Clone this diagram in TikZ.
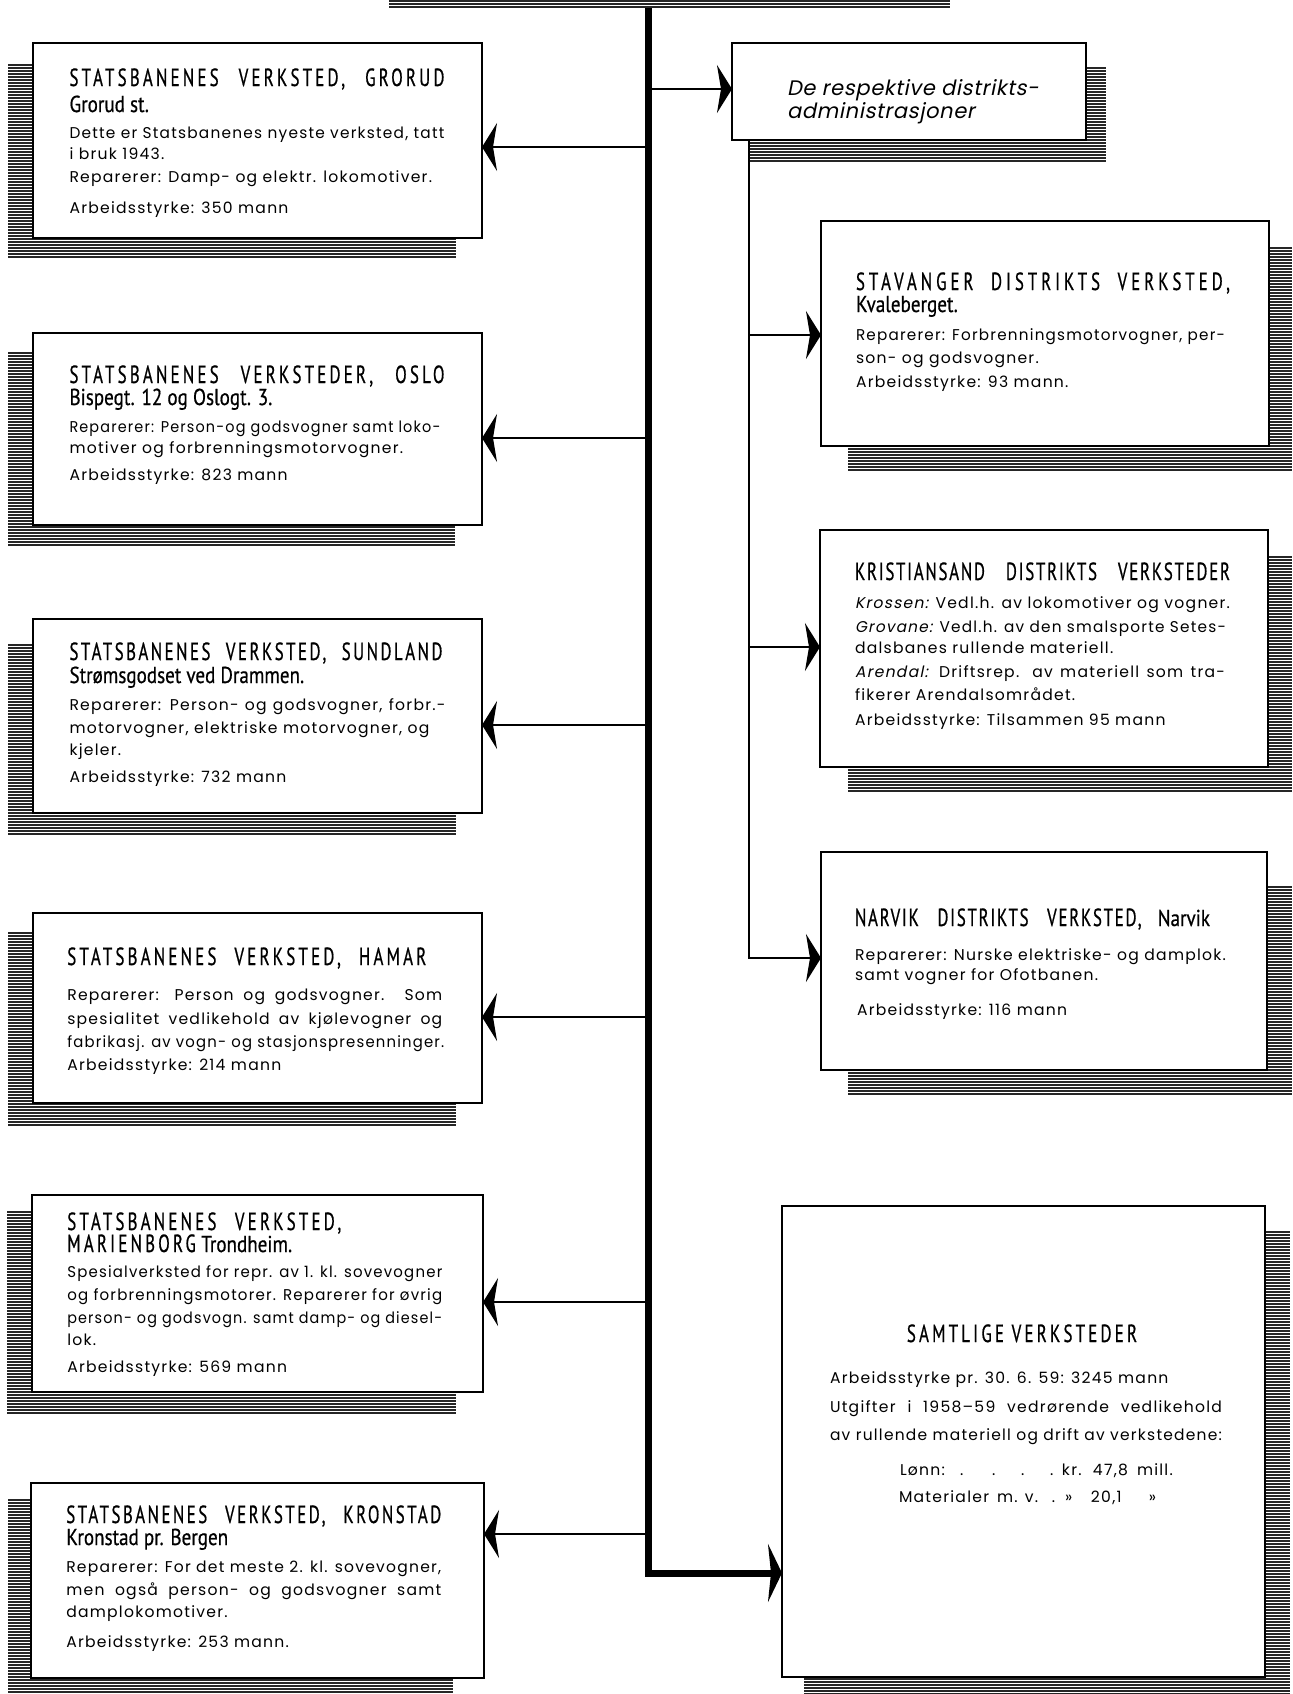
\documentclass[tikz,border=0pt]{standalone}
\usepackage{fontspec}
\usepackage{graphicx}
\usetikzlibrary{arrows.meta,fit}
\newfontfamily\ttlF[FakeStretch=0.68,LetterSpace=13,FakeBold=0.6]{PT Sans}
\newfontfamily\subF[FakeStretch=0.83,FakeBold=0.6]{PT Sans}
\newfontfamily\bodyF[LetterSpace=8]{Poppins}
\newfontfamily\bodyI[FakeSlant=0.2,LetterSpace=8]{Poppins}
\newfontfamily\respI[FakeSlant=0.2,LetterSpace=3]{Poppins}
\newdimen\pxu \pxu=0.5pt
\newsavebox\jbox
\newcommand\ttl{\ttlF\fontsize{12.4}{14}\selectfont}
\newcommand\TT[2][13]{{\ttl\addfontfeature{LetterSpace=#1}#2}}
\newcommand\subt{\subF\fontsize{11.5}{13}\selectfont}
\newcommand\bdy{\bodyF\fontsize{7.8}{9}\selectfont}
\newcommand\bdyit{\bodyI\fontsize{7.8}{9}\selectfont}
\newcommand\RagL[2]{\baselineskip=#1\pxu\hbox{#2}}
\newcommand\JusL[3]{\baselineskip=#1\pxu
  \sbox\jbox{#3}%
  \ifdim\wd\jbox>#2\pxu
    \hbox to #2\pxu{\resizebox{#2\pxu}{\height}{\usebox\jbox}}%
  \else
    \hbox to #2\pxu{#3}%
  \fi}
\newcommand\Blk[1]{\vtop{\lineskiplimit=-\maxdimen\bdy #1}}
\newcommand\AtX[2]{\makebox[0pt][l]{\hskip#1\pxu #2}}
\newcommand\Shad[4]{%
  \pgfmathtruncatemacro\shnext{#2+3}%
  \foreach \yy in {#2,\shnext,...,#4} {\draw[shadln] (#1,\yy) -- (#3,\yy);}}
\tikzset{
  box/.style={draw=black, line width=0.7pt, fill=white, inner sep=0pt, outer sep=0pt},
  shadln/.style={line width=0.55pt, draw=black!85},
  txt/.style={anchor=base west, inner sep=0pt, outer sep=0pt},
  thinln/.style={line width=1pt},
  arr/.style={thinln, -{Stealth[length=7.5pt,width=24pt,inset=2pt]}},
  trunkln/.style={line width=3.5pt},
  bigarr/.style={trunkln, line join=miter, -{Stealth[length=7pt,width=29pt,inset=1.5pt]}}
}
\begin{document}
\begin{tikzpicture}[x=0.5pt,y=-0.5pt]
\useasboundingbox (0,0) rectangle (1293,1694);
% shadows
\Shad{389}{1}{950}{7}
\Shad{8}{65}{456}{258}
\Shad{8}{353}{455}{547}
\Shad{8}{645}{456}{835}
\Shad{8}{933}{456}{1127}
\Shad{7}{1212}{456}{1415}
\Shad{8}{1500}{453}{1694}
\Shad{749}{68}{1106}{163}
\Shad{848}{248}{1292}{470}
\Shad{848}{557}{1292}{793}
\Shad{848}{887}{1292}{1095}
\Shad{804}{1232}{1290}{1694}
% boxes
\node[box, fit={(33,43) (482,238)}] (grorud) {};
\node[box, fit={(33,333) (482,525)}] (oslo) {};
\node[box, fit={(33,619) (482,813)}] (sund) {};
\node[box, fit={(33,913) (482,1103)}] (hamar) {};
\node[box, fit={(32,1195) (483,1392)}] (mar) {};
\node[box, fit={(31,1483) (484,1678)}] (kron) {};
\node[box, fit={(732,43) (1086,140)}] (resp) {};
\node[box, fit={(821,221) (1269,446)}] (stav) {};
\node[box, fit={(820,530) (1268,767)}] (krist) {};
\node[box, fit={(821,852) (1267,1070)}] (narv) {};
\node[box, fit={(782,1206) (1265,1677)}] (samt) {};
% connectors
\coordinate (top) at (648,8);
\coordinate (bend) at (648,1573);
\draw[bigarr] (top) -- (bend) -- (bend -| samt.west);
\coordinate (j1) at (648,147);
\coordinate (j2) at (648,438);
\coordinate (j3) at (648,725);
\coordinate (j4) at (648,1017);
\coordinate (j5) at (648,1302);
\coordinate (j6) at (648,1534);
\coordinate (jr) at (648,89);
\draw[arr] (j1) -- (j1 -| grorud.east);
\draw[arr] (j2) -- (j2 -| oslo.east);
\draw[arr] (j3) -- (j3 -| sund.east);
\draw[arr] (j4) -- (j4 -| hamar.east);
\draw[arr] (j5) -- (j5 -| mar.east);
\draw[arr] (j6) -- (j6 -| kron.east);
\draw[arr] (jr) -- (jr -| resp.west);
\coordinate (r0) at (749,140);
\coordinate (r1) at (749,335);
\coordinate (r2) at (749,647);
\coordinate (r3) at (749,958);
\draw[arr] (r0) -- (r3) -- (r3 -| narv.west);
\draw[arr] (r1) -- (r1 -| stav.west);
\draw[arr] (r2) -- (r2 -| krist.west);
% texts
\node[txt] (tgrorud) at (69.5,86) {\Blk{%
 \JusL{0}{375}{\TT{STATSBANENES VERKSTED, GRORUD}}%
 \RagL{26}{\subt Grorud st.}%
 \JusL{26}{375}{Dette er Statsbanenes nyeste verksted, tatt}%
 \RagL{21}{i bruk 1943.}%
 \RagL{23}{Reparerer: Damp- og elektr. lokomotiver.}%
 \RagL{31}{Arbeidsstyrke: 350 mann}}};
\node[txt] (toslo) at (69.5,383) {\Blk{%
 \JusL{0}{375}{\TT{STATSBANENES VERKSTEDER, OSLO}}%
 \RagL{22}{\subt Bispegt. 12 og Oslogt. 3.}%
 \JusL{27}{371}{Reparerer: Person-og godsvogner samt loko-}%
 \RagL{21}{motiver og forbrenningsmotorvogner.}%
 \RagL{27}{Arbeidsstyrke: 823 mann}}};
\node[txt] (tsund) at (69.5,660) {\Blk{%
 \JusL{0}{373}{\TT[10]{STATSBANENES VERKSTED, SUNDLAND}}%
 \RagL{23}{\subt Strømsgodset ved Drammen.}%
 \JusL{27}{376}{Reparerer: Person- og godsvogner, forbr.-}%
 \RagL{23}{motorvogner, elektriske motorvogner, og}%
 \RagL{22}{kjeler.}%
 \RagL{27}{Arbeidsstyrke: 732 mann}}};
\node[txt] (thamar) at (67.3,965) {\Blk{%
 \JusL{0}{359}{\TT{STATSBANENES VERKSTED, HAMAR}}%
 \JusL{35}{375}{Reparerer: Person og godsvogner. Som}%
 \JusL{24}{375}{spesialitet vedlikehold av kjølevogner og}%
 \JusL{23}{377}{fabrikasj. av vogn- og stasjonspresenninger.}%
 \RagL{23}{Arbeidsstyrke: 214 mann}}};
\node[txt] (tmar) at (67.3,1230) {\Blk{%
 \JusL{0}{274}{\TT{STATSBANENES VERKSTED,}}%
 \RagL{22}{\TT{MARIENBORG} {\subt Trondheim.}}%
 \JusL{25}{375}{Spesialverksted for repr. av 1. kl. sovevogner}%
 \JusL{23}{375}{og forbrenningsmotorer. Reparerer for øvrig}%
 \JusL{23}{375}{person- og godsvogn. samt damp- og diesel-}%
 \RagL{22}{lok.}%
 \RagL{27}{Arbeidsstyrke: 569 mann}}};
\node[txt] (tkron) at (66.3,1523) {\Blk{%
 \JusL{0}{375}{\TT[10]{STATSBANENES VERKSTED, KRONSTAD}}%
 \RagL{22}{\subt Kronstad pr. Bergen}%
 \JusL{27}{375}{Reparerer: For det meste 2. kl. sovevogner,}%
 \JusL{23}{375}{men også person- og godsvogner samt}%
 \RagL{22}{damplokomotiver.}%
 \RagL{30}{Arbeidsstyrke: 253 mann.}}};
\node[txt] (tresp) at (787,95) {\vtop{\lineskiplimit=-\maxdimen\respI\fontsize{10.5}{12}\selectfont
 \RagL{0}{De respektive distrikts-}%
 \RagL{23}{administrasjoner}}};
\node[txt] (tstav) at (856,290) {\Blk{%
 \JusL{0}{374}{\TT[16]{STAVANGER DISTRIKTS VERKSTED,}}%
 \RagL{22}{\subt Kvaleberget.}%
 \JusL{28}{369}{Reparerer: Forbrenningsmotorvogner, per-}%
 \RagL{23}{son- og godsvogner.}%
 \RagL{24}{Arbeidsstyrke: 93 mann.}}};
\node[txt] (tkrist) at (855,580) {\Blk{%
 \JusL{0}{375}{\TT[7]{KRISTIANSAND DISTRIKTS VERKSTEDER}}%
 \JusL{28}{375}{{\bdyit Krossen:} Vedl.h. av lokomotiver og vogner.}%
 \JusL{24}{371}{{\bdyit Grovane:} Vedl.h. av den smalsporte Setes-}%
 \RagL{21}{dalsbanes rullende materiell.}%
 \JusL{24}{370}{{\bdyit Arendal:} Driftsrep. av materiell som tra-}%
 \RagL{23}{fikerer Arendalsområdet.}%
 \RagL{25}{Arbeidsstyrke: Tilsammen 95 mann}}};
\node[txt] (tnarv) at (855,926) {\Blk{%
 \JusL{0}{355}{\TT[7]{NARVIK DISTRIKTS VERKSTED,} {\subt Narvik}}%
 \JusL{34}{371}{Reparerer: Nurske elektriske- og damplok.}%
 \RagL{20}{samt vogner for Ofotbanen.}%
 \RagL{35}{\hskip2\pxu Arbeidsstyrke: 116 mann}}};
\node[anchor=base, inner sep=0pt] (tsamt) at (1022,1342) {\TT{SAMTLIGE VERKSTEDER}};
\node[txt] (tsamtb) at (830,1383) {\Blk{%
 \RagL{0}{Arbeidsstyrke pr. 30. 6. 59: 3245 mann}%
 \JusL{29}{392}{Utgifter i 1958–59 vedrørende vedlikehold}%
 \JusL{28}{392}{av rullende materiell og drift av verkstedene:}}};
\node[txt] (tlonn) at (899,1475) {\bdy\hbox{\AtX{0}{Lønn:}\AtX{60}{.}\AtX{92}{.}\AtX{121}{.}\AtX{150}{.}\AtX{162}{kr.}\AtX{193}{47,8}\AtX{237}{mill.}}};
\node[txt] (tmat) at (898,1502) {\bdy\hbox{\AtX{0}{Materialer}\AtX{98}{m. v.}\AtX{153}{.}\AtX{166}{»}\AtX{192}{20,1}\AtX{250}{»}}};
\end{tikzpicture}
\end{document}
